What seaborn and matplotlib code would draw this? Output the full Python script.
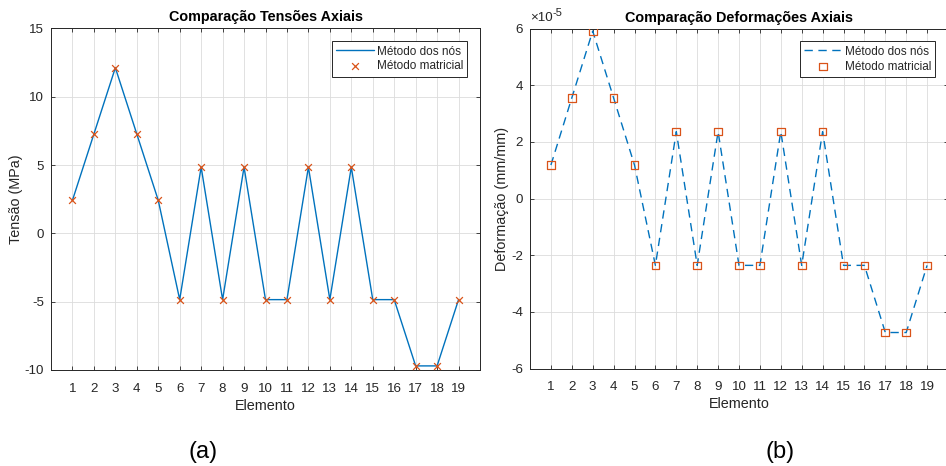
import matplotlib
matplotlib.use("Agg")
import matplotlib.pyplot as plt
import seaborn as sns
import pandas as pd
from matplotlib.ticker import FuncFormatter

# Elements of the truss
elementos = list(range(1, 20))

# Axial stresses (MPa)
tensao_nos = [2.42, 7.27, 12.12, 7.27, 2.42, -4.85, 4.85, -4.85, 4.85, -4.85,
              -4.85, 4.85, -4.85, 4.85, -4.85, -4.85, -9.70, -9.70, -4.85]
tensao_matricial = [2.42, 7.27, 12.12, 7.27, 2.42, -4.85, 4.85, -4.85, 4.85, -4.85,
                    -4.85, 4.85, -4.85, 4.85, -4.85, -4.85, -9.70, -9.70, -4.85]

# Axial strains (mm/mm)
deform_nos = [1.18e-5, 3.55e-5, 5.91e-5, 3.55e-5, 1.18e-5, -2.36e-5, 2.36e-5, -2.36e-5,
              2.36e-5, -2.36e-5, -2.36e-5, 2.36e-5, -2.36e-5, 2.36e-5, -2.36e-5,
              -2.36e-5, -4.73e-5, -4.73e-5, -2.36e-5]
deform_matricial = [1.18e-5, 3.55e-5, 5.91e-5, 3.55e-5, 1.18e-5, -2.36e-5, 2.36e-5, -2.36e-5,
                    2.36e-5, -2.36e-5, -2.36e-5, 2.36e-5, -2.36e-5, 2.36e-5, -2.36e-5,
                    -2.36e-5, -4.73e-5, -4.73e-5, -2.36e-5]

tensao_ticks = [-10, -5, 0, 5, 10, 15]
deform_ticks = [-6e-5, -4e-5, -2e-5, 0, 2e-5, 4e-5, 6e-5]
expoente = -5

AZUL = "#0072BD"
LARANJA = "#D95319"
TEXTO = "#262626"

sns.set_theme(style="white")
plt.rcParams["font.family"] = ["Liberation Sans", "DejaVu Sans"]
plt.rcParams["axes.unicode_minus"] = False

df_t = pd.DataFrame({"Elemento": elementos, "nos": tensao_nos, "mat": tensao_matricial})
df_d = pd.DataFrame({"Elemento": elementos, "nos": deform_nos, "mat": deform_matricial})

W, H = 946, 466
fig = plt.figure(figsize=(W / 100, H / 100), dpi=100)
ax1 = fig.add_axes([51 / W, (H - 370) / H, (480 - 51) / W, (370 - 28.4) / H])
ax2 = fig.add_axes([530 / W, (H - 368.5) / H, 418 / W, (368.5 - 28.5) / H])


def estilo(ax, yticks, ylim, ylabel, titulo, ylabelpad):
    ax.set_xlim(0, 20)
    ax.set_xticks(elementos)
    ax.set_ylim(*ylim)
    ax.set_yticks(yticks)
    ax.grid(True, color="#dcdcdc", linewidth=0.6)
    ax.set_axisbelow(True)
    for s in ax.spines.values():
        s.set_color(TEXTO)
        s.set_linewidth(0.7)
    ax.tick_params(direction="in", length=3, width=0.6, color=TEXTO,
                   labelsize=9.6, labelcolor=TEXTO, top=True, right=True,
                   bottom=True, left=True)
    ax.tick_params(axis="x", pad=9)
    ax.tick_params(axis="y", pad=5)
    ax.set_xlabel("Elemento", fontsize=10.4, color=TEXTO, labelpad=3)
    ax.set_ylabel(ylabel, fontsize=10.4, color=TEXTO, labelpad=ylabelpad)
    ax.set_title(titulo, fontsize=10.4, fontweight="bold", color="black", pad=5)


# (a) stresses
sns.lineplot(data=df_t, x="Elemento", y="nos", ax=ax1, color=AZUL, linewidth=1.0,
             label="Método dos nós")
sns.scatterplot(data=df_t, x="Elemento", y="mat", ax=ax1, marker="x", color=LARANJA,
                s=24, linewidth=0.9, label="Método matricial", zorder=3)
estilo(ax1, tensao_ticks, (-10, 15), "Tensão (MPa)", "Comparação Tensões Axiais", 1)

# (b) strains
sns.lineplot(data=df_d, x="Elemento", y="nos", ax=ax2, color=AZUL, linewidth=1.0,
             label="Método dos nós")
ax2.get_lines()[0].set_dashes([6, 4])
sns.scatterplot(data=df_d, x="Elemento", y="mat", ax=ax2, marker="s", s=30,
                label="Método matricial", zorder=3)
coll = ax2.collections[-1]
coll.set_facecolor("none")
coll.set_edgecolor(LARANJA)
coll.set_linewidth(0.9)
estilo(ax2, deform_ticks, (-6e-5, 6e-5), "Deformação (mm/mm)",
       "Comparação Deformações Axiais", 1.5)
escala = 10.0 ** (-expoente)
ax2.yaxis.set_major_formatter(FuncFormatter(lambda v, p: f"{round(v * escala):d}"))
# exponent shown above the y axis
ax2.text(0.0, 1.012, "×10", transform=ax2.transAxes, fontsize=9.6, color=TEXTO,
         ha="left", va="bottom")
ax2.text(0.055, 1.03, f"{expoente}", transform=ax2.transAxes, fontsize=8,
         color=TEXTO, ha="left", va="bottom")

for ax in (ax1, ax2):
    leg = ax.legend(loc="upper right", fontsize=8.5, fancybox=False, framealpha=1,
                    edgecolor=TEXTO, borderaxespad=1.1, handlelength=3.2,
                    borderpad=0.35, labelspacing=0.25, handletextpad=0.2)
    leg.get_frame().set_linewidth(0.7)
    for t in leg.get_texts():
        t.set_color(TEXTO)

fig.text(203 / W, 1 - 452 / H, "(a)", fontsize=17, ha="center", va="center", color="black")
fig.text(780 / W, 1 - 452 / H, "(b)", fontsize=17, ha="center", va="center", color="black")

fig.savefig("out.png", dpi=100, facecolor="white")
